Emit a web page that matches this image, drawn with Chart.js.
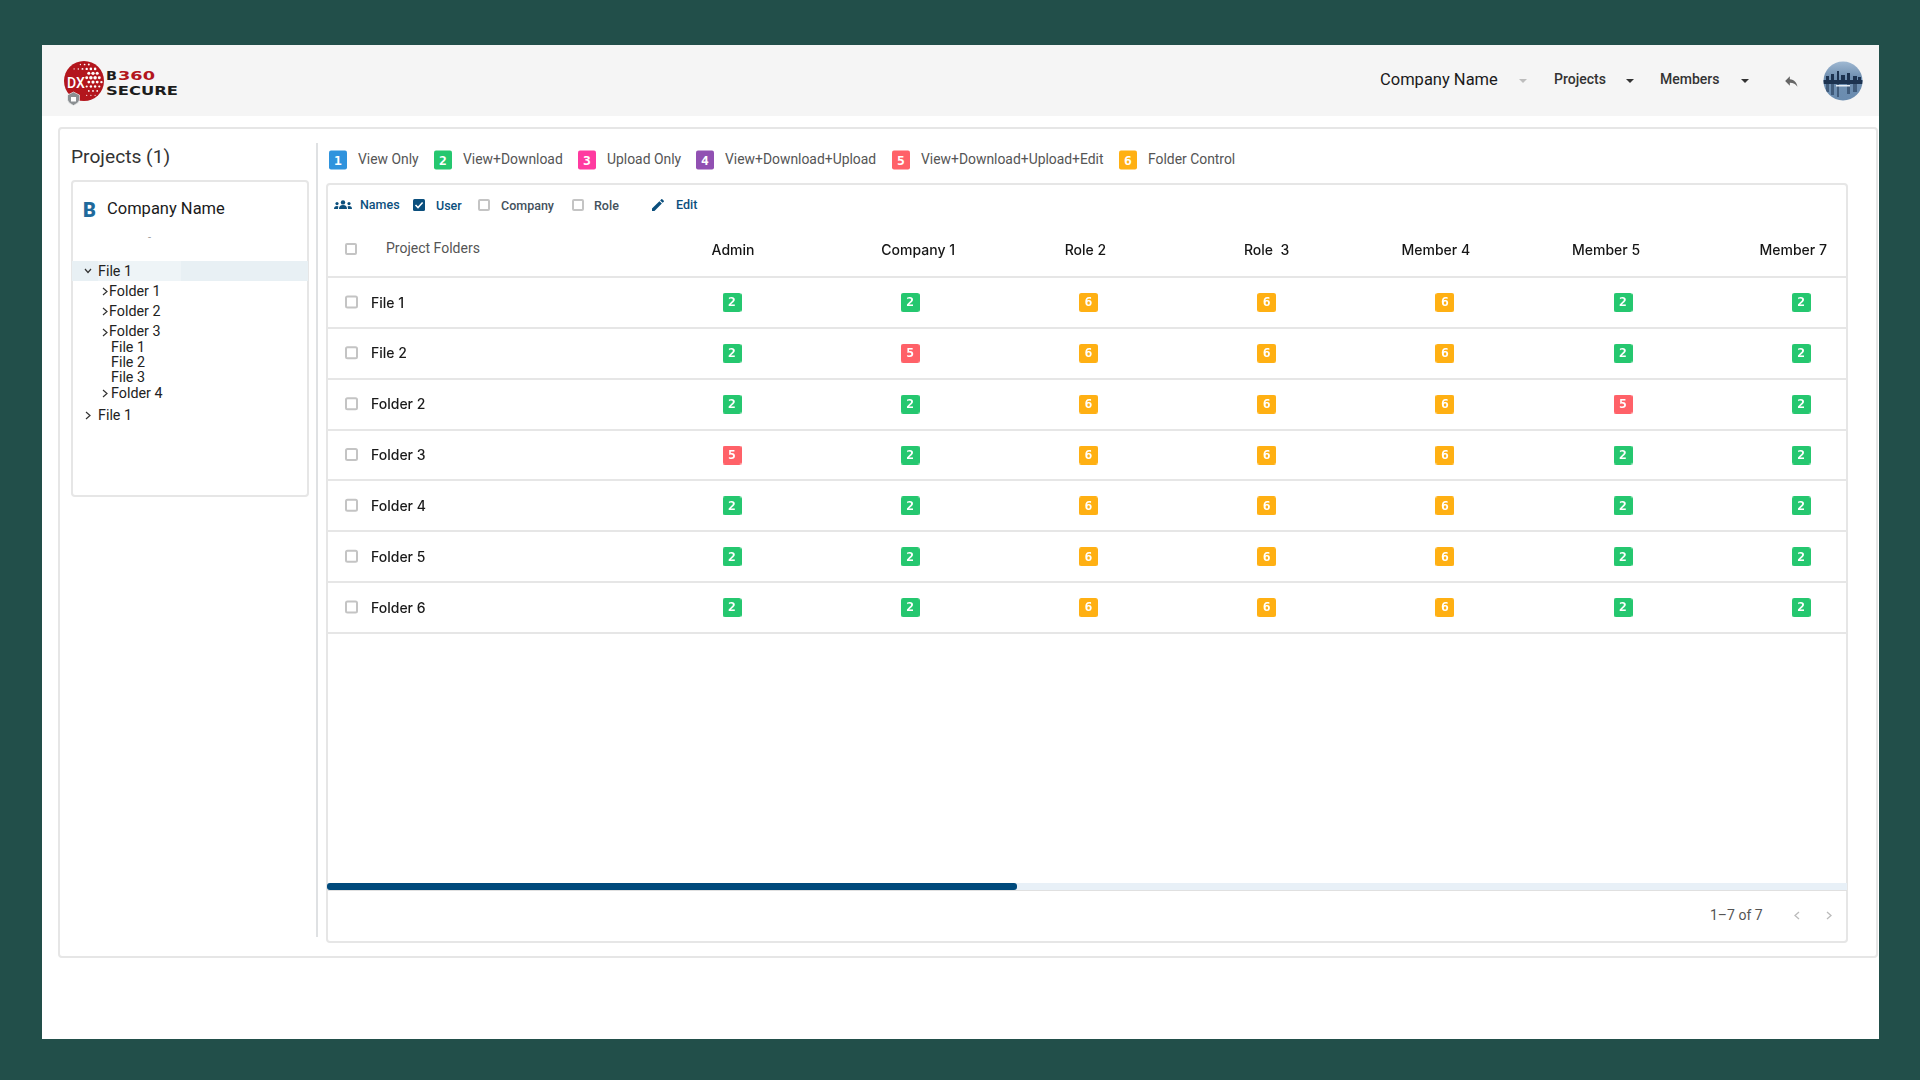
<!DOCTYPE html>
<html>
<head>
<meta charset="utf-8">
<title>Project Folders</title>
<script src="https://cdn.jsdelivr.net/npm/chart.js@4/dist/chart.umd.min.js"></script>
<style>
  html, body { margin: 0; padding: 0; }
  body { width: 1920px; height: 1080px; background: #224f4a; position: relative; overflow: hidden; font-family: Roboto, sans-serif; color: #222; }
  .box { position: absolute; box-sizing: border-box; }
  .t { position: absolute; white-space: nowrap; transform: translateY(-50%); line-height: 1; }
  .card { border: 2px solid #e6e6e6; border-radius: 4px; background: #fff; }
  .cb { position: absolute; box-sizing: border-box; width: 12px; height: 12px; border: 2px solid #c4c4c4; border-radius: 2px; background: #fff; transform: translate(-50%, -50%); }
  .caret { position: absolute; width: 0; height: 0; border-left: 4px solid transparent; border-right: 4px solid transparent; border-top: 4px solid #333; transform: translate(-50%, -50%); }
  .tree { font-size: 14.3px; color: #222; }
  .tool { font-size: 12.5px; font-weight: 500; color: #44515c; }
  .badge { position: absolute; width: 18px; height: 19px; border-radius: 2px; color: #fff; font: 700 13px "DejaVu Sans Mono", monospace; text-align: center; line-height: 19px; transform: translate(-50%, -50%); }
  .legtext { position: absolute; white-space: nowrap; font-size: 13.9px; color: #555; transform: translateY(-50%); line-height: 1; }
  svg { position: absolute; overflow: visible; }
  #matrix { position: absolute; left: 326px; top: 230px; }
</style>
</head>
<body>

<!-- page frame -->
<div class="box" style="left:42px;top:45px;width:1837px;height:994px;background:#fff"></div>
<div class="box" style="left:42px;top:45px;width:1837px;height:71px;background:#f5f5f5"></div>

<!-- logo -->
<svg id="logo" style="left:0;top:0" width="200" height="120">
  <circle cx="84" cy="81" r="20" fill="#b3161d"></circle>
  <text x="76" y="88" font-family="Roboto" font-weight="500" font-size="14" fill="#fff" text-anchor="middle">DX</text>
  <path d="M67.5 95 L73.5 92 L79.5 95 L79.5 100 Q79 103 73.5 105.5 Q68 103 67.5 100 Z" fill="#8b8f92" stroke="#fff" stroke-width="0.6"></path>
  <rect x="71" y="97" width="5" height="4.5" fill="#fff"></rect>
  <text x="106" y="80" font-family="DejaVu Sans" font-weight="700" font-size="12.5" textLength="11" lengthAdjust="spacingAndGlyphs" fill="#1c1c1c">B</text>
  <text x="118" y="80" font-family="DejaVu Sans" font-weight="700" font-size="12.5" textLength="37" lengthAdjust="spacingAndGlyphs" fill="#b3161d">360</text>
  <text x="106" y="95" font-family="DejaVu Sans" font-weight="700" font-size="13" textLength="72" lengthAdjust="spacingAndGlyphs" fill="#1c1c1c">SECURE</text>
</svg>

<!-- top bar -->
<div class="t" style="left:1380px;top:80px;font-size:16.5px;color:#1a1a1a">Company Name</div>
<div class="caret" style="left:1523px;top:81px;border-top-color:#bdbdbd"></div>
<div class="t" style="left:1554px;top:79px;font-size:14px;font-weight:500;color:#333">Projects</div>
<div class="caret" style="left:1630px;top:81px"></div>
<div class="t" style="left:1660px;top:79px;font-size:14px;font-weight:500;color:#333">Members</div>
<div class="caret" style="left:1745px;top:81px"></div>
<svg style="left:1784px;top:74px" width="14" height="14" viewBox="0 0 24 24"><path d="M10 9V4l-8 8 8 8v-5c6 0 10 2 13 7-1-7-5-12-13-13z" fill="#666"></path></svg>
<svg style="left:1823px;top:61px" width="40" height="40">
  <defs>
    <linearGradient id="sky" x1="0" y1="0" x2="0" y2="1">
      <stop offset="0" stop-color="#9fb8d2"></stop>
      <stop offset="0.4" stop-color="#6f8fb0"></stop>
      <stop offset="1" stop-color="#6a8cb0"></stop>
    </linearGradient>
    <clipPath id="round"><circle cx="20" cy="20" r="19.5"></circle></clipPath>
  </defs>
  <circle cx="20" cy="20" r="19.5" fill="url(#sky)"></circle>
  <g clip-path="url(#round)" fill="#1d3350">
    <rect x="0" y="19" width="40" height="4"></rect>
    <rect x="3" y="15" width="3" height="5"></rect>
    <rect x="8" y="13" width="3" height="7"></rect>
    <rect x="14" y="10" width="2" height="10"></rect>
    <rect x="18" y="14" width="4" height="6"></rect>
    <rect x="24" y="12" width="3" height="8"></rect>
    <rect x="30" y="15" width="4" height="5"></rect>
    <rect x="35" y="16" width="3" height="4"></rect>
    <rect x="3" y="23" width="3" height="8" opacity="0.55"></rect>
    <rect x="8" y="23" width="3" height="11" opacity="0.55"></rect>
    <rect x="14" y="23" width="2" height="13" opacity="0.55"></rect>
    <rect x="24" y="23" width="3" height="10" opacity="0.55"></rect>
    <rect x="30" y="23" width="4" height="8" opacity="0.55"></rect>
    <rect x="13" y="24" width="14" height="1.5" fill="#e8eef5"></rect>
  </g>
</svg>

<!-- main card -->
<div class="box card" style="left:58px;top:127px;width:1820px;height:831px"></div>
<div class="t" style="left:71px;top:157px;font-size:19.2px;color:#333">Projects (1)</div>
<div class="box" style="left:316px;top:143px;width:2px;height:794px;background:#dfe1e3"></div>

<!-- project tree -->
<div class="box card" style="left:71px;top:180px;width:238px;height:317px"></div>
<div class="t" style="left:83px;top:210px;font-size:20px;font-weight:900;color:#1f6a9c">B</div>
<div class="t" style="left:107px;top:209px;font-size:16.5px;color:#1a1a1a">Company Name</div>
<div class="t" style="left:148px;top:237px;font-size:11px;color:#999">-</div>
<div class="box" style="left:72px;top:261px;width:236px;height:20px;background:#e8f0f4"></div>
<div class="box" style="left:98px;top:261px;width:83px;height:20px;background:#eef4f7"></div>

<svg style="left:84px;top:267px" width="8" height="8"><path d="M1 2 L4 5.5 L7 2" fill="none" stroke="#333" stroke-width="1.2"></path></svg>
<div class="t tree" style="left:98px;top:271px">File 1</div>
<svg style="left:101px;top:287px" width="8" height="9"><path d="M2 1 L6 4.5 L2 8" fill="none" stroke="#333" stroke-width="1.2"></path></svg>
<div class="t tree" style="left:109px;top:291px">Folder 1</div>
<svg style="left:101px;top:307px" width="8" height="9"><path d="M2 1 L6 4.5 L2 8" fill="none" stroke="#333" stroke-width="1.2"></path></svg>
<div class="t tree" style="left:109px;top:311px">Folder 2</div>
<svg style="left:101px;top:328px" width="8" height="9"><path d="M2 1 L6 4.5 L2 8" fill="none" stroke="#333" stroke-width="1.2"></path></svg>
<div class="t tree" style="left:109px;top:331px">Folder 3</div>
<div class="t tree" style="left:111px;top:347px">File 1</div>
<div class="t tree" style="left:111px;top:362px">File 2</div>
<div class="t tree" style="left:111px;top:377px">File 3</div>
<svg style="left:101px;top:389px" width="8" height="9"><path d="M2 1 L6 4.5 L2 8" fill="none" stroke="#333" stroke-width="1.2"></path></svg>
<div class="t tree" style="left:111px;top:393px">Folder 4</div>
<svg style="left:84px;top:411px" width="8" height="9"><path d="M2 1 L6 4.5 L2 8" fill="none" stroke="#333" stroke-width="1.2"></path></svg>
<div class="t tree" style="left:98px;top:415px">File 1</div>

<!-- permission legend, filled in by the script -->
<div id="legend"></div>

<!-- table card -->
<div class="box card" style="left:326px;top:183px;width:1522px;height:760px"></div>

<!-- table toolbar -->
<svg style="left:334px;top:200px" width="18" height="10" viewBox="0 0 18 10" fill="#0b4f7d">
  <circle cx="9" cy="2.4" r="2.2"></circle><path d="M5 9 Q5 5 9 5 Q13 5 13 9 Z"></path>
  <circle cx="3" cy="3.6" r="1.6"></circle><path d="M0 9 Q0 6 3 6 Q4 6 4.4 6.6 Q4 8 4 9 Z"></path>
  <circle cx="15" cy="3.6" r="1.6"></circle><path d="M18 9 Q18 6 15 6 Q14 6 13.6 6.6 Q14 8 14 9 Z"></path>
</svg>
<div class="t tool" style="left:360px;top:205px;color:#0b4f7d">Names</div>
<svg style="left:413px;top:199px" width="12" height="12"><rect width="12" height="12" rx="1.5" fill="#0b4f7d"></rect><path d="M2.5 6 L5 8.6 L9.6 3.4" fill="none" stroke="#fff" stroke-width="1.5"></path></svg>
<div class="t tool" style="left:436px;top:206px;color:#0b4f7d">User</div>
<div class="cb" style="left:484px;top:205px"></div>
<div class="t tool" style="left:501px;top:206px">Company</div>
<div class="cb" style="left:578px;top:205px"></div>
<div class="t tool" style="left:594px;top:206px">Role</div>
<svg style="left:650px;top:197px" width="16" height="16" viewBox="0 0 24 24"><path d="M3 17.3V21h3.7L17.8 9.9l-3.7-3.7L3 17.3zM20.7 7c.4-.4.4-1 0-1.4l-2.3-2.3c-.4-.4-1-.4-1.4 0l-1.8 1.8 3.7 3.7L20.7 7z" fill="#0b4f7d"></path></svg>
<div class="t tool" style="left:676px;top:205px;color:#0b4f7d">Edit</div>

<div class="cb" style="left:351px;top:249px"></div>
<div class="t" style="left:386px;top:248px;font-size:14px;color:#555">Project Folders</div>

<canvas id="matrix" width="1522" height="410"></canvas>

<!-- scroll bar and pager -->
<div class="box" style="left:328px;top:883px;width:1519px;height:7px;background:#e8f0f7"></div>
<div class="box" style="left:327px;top:883px;width:690px;height:7px;background:#004a7c;border-radius:3px"></div>
<div class="box" style="left:328px;top:890px;width:1519px;height:1px;background:#e0e0e0"></div>
<div class="t" style="left:1710px;top:915px;font-size:14px;color:#555">1–7 of 7</div>
<svg style="left:1793px;top:911px" width="8" height="9"><path d="M6 1 L2 4.5 L6 8" fill="none" stroke="#bbb" stroke-width="1.3"></path></svg>
<svg style="left:1825px;top:911px" width="8" height="9"><path d="M2 1 L6 4.5 L2 8" fill="none" stroke="#bbb" stroke-width="1.3"></path></svg>

<script>
// column and row names
const columns = ["Admin", "Company 1", "Role 2", "Role  3", "Member 4", "Member 5", "Member 7"];
const rowNames = ["File 1", "File 2", "Folder 2", "Folder 3", "Folder 4", "Folder 5", "Folder 6"];

// permission level per column, one list per row
const file1 = [2, 2, 6, 6, 6, 2, 2];
const file2 = [2, 5, 6, 6, 6, 2, 2];
const folder2 = [2, 2, 6, 6, 6, 5, 2];
const folder3 = [5, 2, 6, 6, 6, 2, 2];
const folder4 = [2, 2, 6, 6, 6, 2, 2];
const folder5 = [2, 2, 6, 6, 6, 2, 2];
const folder6 = [2, 2, 6, 6, 6, 2, 2];
const rows = [file1, file2, folder2, folder3, folder4, folder5, folder6];

// permission levels
const permLevels = [1, 2, 3, 4, 5, 6];
const permNames = ["View Only", "View+Download", "Upload Only", "View+Download+Upload", "View+Download+Upload+Edit", "Folder Control"];
const permColors = ["#2f93dd", "#25c76f", "#ff3aa0", "#9150b2", "#ff6168", "#ffb013"];

// layout of the table in pixels
const legendBadgeX = [338, 443, 587, 705, 901, 1128];
const headerShiftPx = [1, 8, -3, 0, -9, -17, -8];
const colWidth = 178.2;
const firstColPx = 406;   // first column centre, measured from the canvas left
const badgeSize = 19;

// legend above the table
const legend = document.getElementById("legend");
permLevels.forEach(function (level, i) {
  const badge = document.createElement("div");
  badge.className = "badge";
  badge.style.left = legendBadgeX[i] + "px";
  badge.style.top = "160px";
  badge.style.background = permColors[i];
  badge.textContent = level;
  legend.appendChild(badge);

  const text = document.createElement("div");
  text.className = "legtext";
  text.style.left = (legendBadgeX[i] + 20) + "px";
  text.style.top = "160px";
  text.textContent = permNames[i];
  legend.appendChild(text);
});

// rounded square used as point style
function makeBadge(color) {
  const c = document.createElement("canvas");
  c.width = badgeSize;
  c.height = badgeSize;
  const g = c.getContext("2d");
  g.fillStyle = color;
  g.beginPath();
  g.roundRect(0, 0, badgeSize, badgeSize, 2.5);
  g.fill();
  return c;
}

const datasets = permLevels.map(function (level, i) {
  const points = [];
  rows.forEach(function (row, r) {
    row.forEach(function (value, col) {
      if (value === level) {
        points.push({ x: col, y: rowNames[r] });
      }
    });
  });
  return {
    label: permNames[i],
    data: points,
    pointStyle: makeBadge(permColors[i]),
    pointRadius: badgeSize / 2,
    backgroundColor: permColors[i]
  };
});

// digit on every badge and the select box at the start of every row
const cellText = {
  id: "cellText",
  afterDatasetsDraw(chart) {
    const ctx = chart.ctx;
    const xScale = chart.scales.x;
    const yScale = chart.scales.y;
    ctx.save();
    rows.forEach(function (row, r) {
      const y = yScale.getPixelForValue(r);
      ctx.strokeStyle = "#c4c4c4";
      ctx.lineWidth = 2;
      ctx.beginPath();
      ctx.roundRect(20, y - 6, 11, 11, 1.5);
      ctx.stroke();
      ctx.fillStyle = "#fff";
      ctx.font = "700 13px 'DejaVu Sans Mono'";
      ctx.textAlign = "center";
      ctx.textBaseline = "middle";
      row.forEach(function (value, col) {
        ctx.fillText(value, xScale.getPixelForValue(col), y + 0.5);
      });
    });
    ctx.restore();
  }
};

// the axes must not reserve room for their labels, the table fills the canvas
function noPadding(axis) {
  axis.paddingLeft = 0;
  axis.paddingRight = 0;
  axis.paddingTop = 0;
  axis.paddingBottom = 0;
}

new Chart(document.getElementById("matrix"), {
  type: "scatter",
  data: { datasets: datasets },
  plugins: [cellText],
  options: {
    responsive: false,
    animation: false,
    devicePixelRatio: 1,
    layout: { autoPadding: false, padding: { top: 0, right: 0, bottom: 7, left: 0 } },
    plugins: { legend: { display: false }, tooltip: { enabled: false } },
    scales: {
      x: {
        type: "linear",
        position: "top",
        min: -firstColPx / colWidth,
        max: (1522 - firstColPx) / colWidth,
        grid: { display: false },
        border: { display: false },
        afterBuildTicks(axis) {
          axis.ticks = columns.map(function (name, i) {
            return { value: i + headerShiftPx[i] / colWidth };
          });
        },
        afterFit(axis) { axis.height = 47; noPadding(axis); },
        ticks: {
          autoSkip: false,
          maxRotation: 0,
          padding: 10,
          color: "#161616",
          font: { family: "Inter", size: 14, weight: "500" },
          callback(value, index) { return columns[index]; }
        }
      },
      y: {
        type: "category",
        labels: rowNames,
        offset: true,
        grid: { color: "#e6e6e6", lineWidth: 2, offset: true, drawTicks: false },
        border: { display: false },
        afterFit(axis) { axis.width = 0; noPadding(axis); },
        ticks: {
          mirror: true,
          padding: 45,
          labelOffset: 1,
          autoSkip: false,
          color: "#1a1a1a",
          font: { family: "Inter", size: 14, weight: "500" }
        }
      }
    }
  }
});

// dots of the logo globe
const logo = document.getElementById("logo");
for (let row = 0; row < 8; row++) {
  for (let col = 0; col < 9; col++) {
    const cx = 72 + col * 4.2 + (row % 2) * 2.1;
    const cy = 64.5 + row * 4.4;
    const dx = cx - 84;
    const dy = cy - 81;
    const inGlobe = dx * dx + dy * dy < 330;
    const underText = cx < 86 && cy > 73;
    if (inGlobe && !underText) {
      const dist = Math.hypot(cx - 93, cy - 77);
      const dot = document.createElementNS("http://www.w3.org/2000/svg", "circle");
      dot.setAttribute("cx", cx);
      dot.setAttribute("cy", cy);
      dot.setAttribute("r", Math.max(0.6, 1.9 - dist * 0.07));
      dot.setAttribute("fill", "#fff");
      logo.appendChild(dot);
    }
  }
}
</script>
</body>
</html>
